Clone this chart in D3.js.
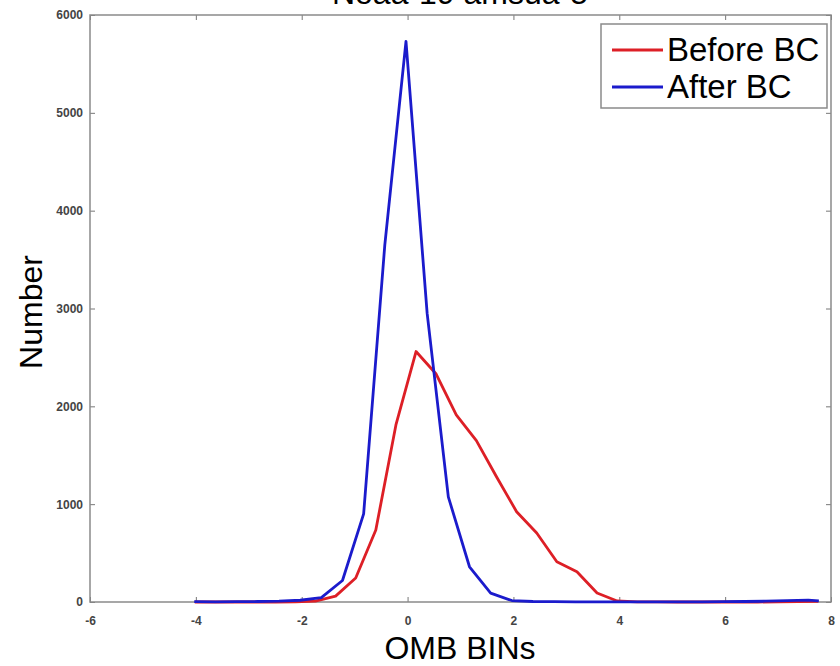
<!DOCTYPE html>
<html>
<head>
<meta charset="utf-8">
<script src="https://cdn.jsdelivr.net/npm/d3@7"></script>
<style>
  body { margin: 0; background: #fff; }
  text { font-family: "Liberation Sans", Arial, sans-serif; }
</style>
</head>
<body>
<script>
// histogram of OMB bins, before / after bias correction
const redX = [-4.02,-3.64,-3.26,-2.88,-2.50,-2.12,-1.74,-1.36,-0.98,-0.60,-0.22,0.16,0.54,0.92,1.30,1.68,
              2.06,2.44,2.82,3.20,3.58,3.96,4.34,4.72,5.10,5.48,5.86,6.24,6.62,7.00,7.38,7.76];
const redY = [0,0,0,0,0,1,8,60,245,736,1810,2560,2330,1912,1650,1280,
              923,705,412,310,92,10,2,1,0,0,0,0,0,1,3,6];

const blueX = [-4.03,-3.63,-3.23,-2.83,-2.43,-2.03,-1.63,-1.23,-0.83,-0.43,-0.03,0.37,0.77,1.17,1.57,1.97,
               2.37,2.77,3.17,3.57,3.97,4.37,4.77,5.17,5.57,5.97,6.37,6.77,7.17,7.57,7.77];
const blueY = [3,2,3,5,8,18,45,220,900,3650,5730,2950,1075,360,90,15,
               5,3,2,2,2,2,2,2,2,3,5,8,15,20,12];

const xTicks = [-6,-4,-2,0,2,4,6,8];
const yTicks = [0,1000,2000,3000,4000,5000,6000];
const legendNames = ['Before BC','After BC'];
const colors = ['#dd1f26','#1b1bcc'];

const W = 840, H = 666;
const svg = d3.select('body').append('svg')
    .attr('width', W)
    .attr('height', H);

const x = d3.scaleLinear().domain([-6, 8]).range([90, 831]);
const y = d3.scaleLinear().domain([0, 6000]).range([602, 15]);

// title, mostly cut off at the top of the picture (as in the original)
svg.append('text')
    .attr('x', 460).attr('y', 4)
    .attr('text-anchor', 'middle')
    .attr('font-size', 32)
    .text('Noaa-19 amsua-5');

// axes, ticks pointing inwards like matlab
const fmt = d => String(d);
const axisStyle = g => {
    g.select('.domain').remove();
    g.selectAll('.tick line').attr('stroke', '#777').attr('stroke-width', 1);
    g.selectAll('.tick text')
        .attr('fill', '#444')
        .attr('font-size', 12)
        .attr('font-weight', 'bold')
        .attr('font-family', '"Liberation Sans", Arial, sans-serif');
};

svg.append('g')
    .attr('transform', `translate(0,${y(0)})`)
    .call(d3.axisBottom(x).tickValues(xTicks).tickFormat(fmt).tickSizeInner(-5).tickSizeOuter(0).tickPadding(14))
    .call(axisStyle);
svg.append('g')
    .attr('transform', `translate(0,${y(6000)})`)
    .call(d3.axisTop(x).tickValues(xTicks).tickFormat('').tickSizeInner(-5).tickSizeOuter(0))
    .call(axisStyle);
svg.append('g')
    .attr('transform', `translate(${x(-6)},0)`)
    .call(d3.axisLeft(y).tickValues(yTicks).tickFormat(fmt).tickSizeInner(-5).tickSizeOuter(0).tickPadding(7))
    .call(axisStyle);
svg.append('g')
    .attr('transform', `translate(${x(8)},0)`)
    .call(d3.axisRight(y).tickValues(yTicks).tickFormat('').tickSizeInner(-5).tickSizeOuter(0))
    .call(axisStyle);

// plot box
svg.append('rect')
    .attr('x', x(-6)).attr('y', y(6000))
    .attr('width', x(8) - x(-6))
    .attr('height', y(0) - y(6000))
    .attr('fill', 'none')
    .attr('stroke', '#8a8a8a')
    .attr('stroke-width', 1.5);

// lines
const line = d3.line().x(d => x(d[0])).y(d => y(d[1]));
const series = [d3.zip(redX, redY), d3.zip(blueX, blueY)];

svg.selectAll('path.series')
    .data(series)
    .enter()
    .append('path')
    .attr('class', 'series')
    .attr('d', line)
    .attr('fill', 'none')
    .attr('stroke', (d, i) => colors[i])
    .attr('stroke-width', 2.8)
    .attr('stroke-linejoin', 'round');

// axis labels
svg.append('text')
    .attr('x', 460).attr('y', 659)
    .attr('text-anchor', 'middle')
    .attr('font-size', 32)
    .text('OMB BINs');

svg.append('text')
    .attr('transform', 'translate(42,312) rotate(-90)')
    .attr('text-anchor', 'middle')
    .attr('font-size', 32)
    .text('Number');

// legend
const legend = svg.append('g');
legend.append('rect')
    .attr('x', 601).attr('y', 24)
    .attr('width', 226).attr('height', 84)
    .attr('fill', '#fff')
    .attr('stroke', '#8a8a8a')
    .attr('stroke-width', 1.5);

const items = legend.selectAll('g.item')
    .data(legendNames)
    .enter()
    .append('g')
    .attr('class', 'item')
    .attr('transform', (d, i) => `translate(0,${50 + i * 37})`);

items.append('line')
    .attr('x1', 612).attr('x2', 663)
    .attr('stroke', (d, i) => colors[i])
    .attr('stroke-width', 2.8);

items.append('text')
    .attr('x', 667).attr('y', 11)
    .attr('font-size', 33)
    .text(d => d);
</script>
</body>
</html>
